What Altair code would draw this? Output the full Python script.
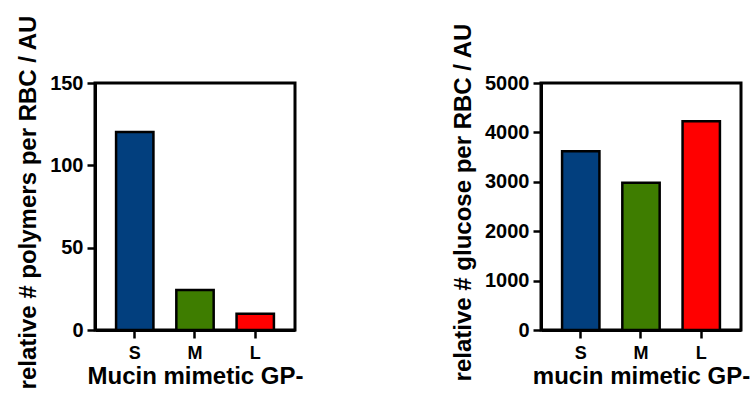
import altair as alt
import pandas as pd

# Glycopolymer length categories
sizes = ["S", "M", "L"]

# Relative number of polymers bound per red blood cell (AU)
polymers_per_rbc = [120.2, 24.3, 9.9]

# Relative number of glucose units per red blood cell (AU)
glucose_per_rbc = [3620, 2980, 4227]

bar_colors = ["#023f7e", "#3e7d00", "#ff0000"]

FONT = "Liberation Sans"


def panel(values, y_title, x_title, y_max, y_step):
    df = pd.DataFrame({"size": sizes, "value": values})
    return (
        alt.Chart(df)
        .mark_bar(stroke="black", strokeWidth=2.5)
        .encode(
            x=alt.X(
                "size:N",
                sort=sizes,
                title=x_title,
                scale=alt.Scale(paddingInner=0.38, paddingOuter=0.35),
                axis=alt.Axis(labelAngle=0, labelPadding=6, titlePadding=2),
            ),
            y=alt.Y(
                "value:Q",
                title=y_title,
                scale=alt.Scale(domain=[0, y_max], nice=False),
                axis=alt.Axis(
                    values=list(range(0, y_max + 1, y_step)),
                    format="d",
                    grid=False,
                    labelPadding=4,
                    labelFontSize=20,
                    titlePadding=9,
                    titleFontSize=24,
                    titleY=119,
                ),
            ),
            color=alt.Color(
                "size:N",
                scale=alt.Scale(domain=sizes, range=bar_colors),
                legend=None,
            ),
        )
        .properties(width=200, height=247)
    )


left = panel(
    polymers_per_rbc,
    "relative # polymers per RBC / AU",
    "Mucin mimetic GP-",
    150,
    50,
)
right = panel(
    glucose_per_rbc,
    "relative # glucose per RBC / AU",
    "mucin mimetic GP-",
    5000,
    1000,
)

chart = (
    alt.hconcat(left, right, spacing=145)
    .properties(padding={"left": 15, "top": 13, "right": 0, "bottom": 0})
    .configure_view(stroke="black", strokeWidth=3)
    .configure_axis(
        labelFont=FONT,
        labelFontWeight="bold",
        labelFontSize=18,
        labelColor="black",
        titleFont=FONT,
        titleFontWeight="bold",
        titleFontSize=24,
        titleColor="black",
        domainColor="black",
        domainWidth=3,
        tickColor="black",
        tickWidth=2.5,
        tickSize=8,
    )
)

chart.save("out.html", embed_options={"renderer": "svg", "actions": False})
